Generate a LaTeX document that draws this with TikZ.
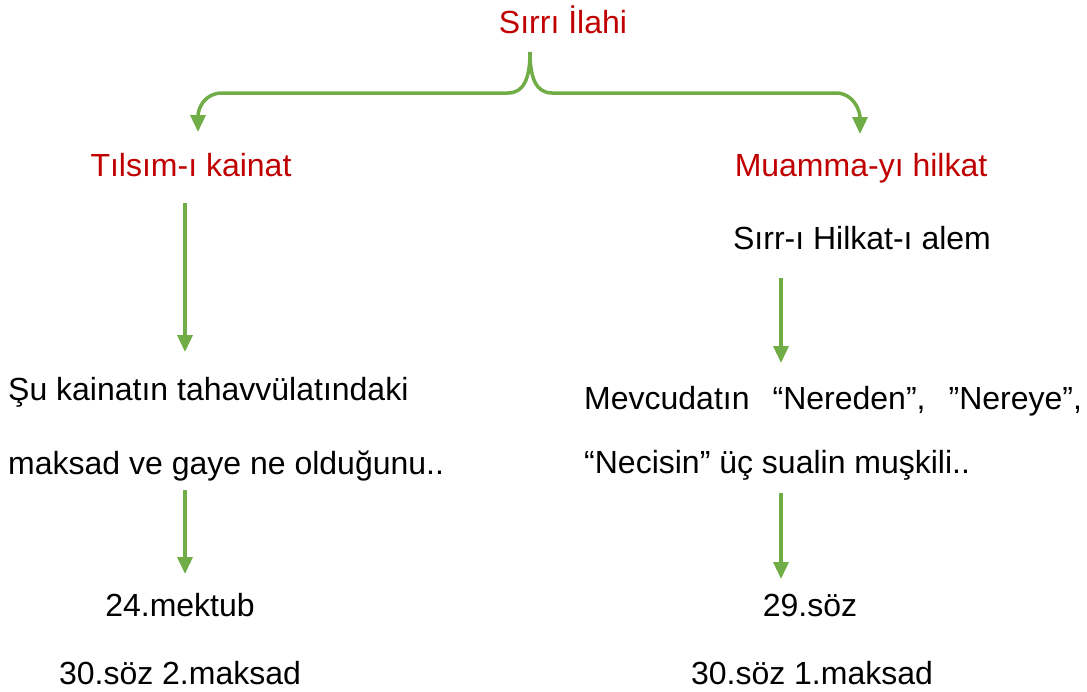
\documentclass[tikz,border=0pt]{standalone}
\usepackage{fontspec}
\setmainfont{Liberation Sans}
\usetikzlibrary{arrows.meta}
\definecolor{grn}{HTML}{70AD47}
\definecolor{rd}{HTML}{C00000}
\begin{document}
\begin{tikzpicture}[x=1pt,y=-1pt,
  txt/.style={inner sep=0pt,font=\fontsize{32}{38}\selectfont,anchor=base},
  ttl/.style={txt,text=rd},
  lft/.style={txt,anchor=base west},
  arr/.style={draw=grn,line width=3.5pt,-{Triangle[width=15pt,length=17pt]}}]
\useasboundingbox (0,0) rectangle (1087,691);
\node[ttl] (sirri) at (563,33) {Sırrı İlahi};
\node[ttl] (tilsim) at (191,176) {Tılsım-ı kainat};
\node[ttl] (muamma) at (861,176) {Muamma-yı hilkat};
\node[txt] (sirr) at (862,249) {Sırr-ı Hilkat-ı alem};
\node[lft] (su1) at (8,400) {Şu kainatın tahavvülatındaki};
\node[lft] (su2) at (8,474) {maksad ve gaye ne olduğunu..};
\node[lft] (mev1) at (584,409) {Mevcudatın\hspace{0.72em}“Nereden”,\hspace{0.72em}”Nereye”,};
\node[lft] (mev2) at (584,473) {“Necisin” üç sualin muşkili..};
\node[txt] (m24) at (180,616) {24.mektub};
\node[txt] (s30b) at (180,684) {30.söz 2.maksad};
\node[txt] (s29) at (810,616) {29.söz};
\node[txt] (s30a) at (812,684) {30.söz 1.maksad};
% brace
\coordinate (top) at (530,52);
\coordinate (ltip) at (198,132);
\coordinate (rtip) at (860,134);
\draw[arr] (top) .. controls (530,78) and (524,93) .. (508,93) -- (222,93)
  .. controls (205,93) and (198,108) .. (ltip);
\draw[arr] (top) .. controls (530,78) and (536,93) .. (552,93) -- (836,93)
  .. controls (853,93) and (860,110) .. (rtip);
% vertical arrows
\coordinate (a1) at (185,203); \coordinate (b1) at (185,352);
\coordinate (a2) at (781,278); \coordinate (b2) at (781,363);
\coordinate (a3) at (185,490); \coordinate (b3) at (185,574);
\coordinate (a4) at (781,493); \coordinate (b4) at (781,579);
\draw[arr] (a1) -- (b1);
\draw[arr] (a2) -- (b2);
\draw[arr] (a3) -- (b3);
\draw[arr] (a4) -- (b4);
\end{tikzpicture}
\end{document}
